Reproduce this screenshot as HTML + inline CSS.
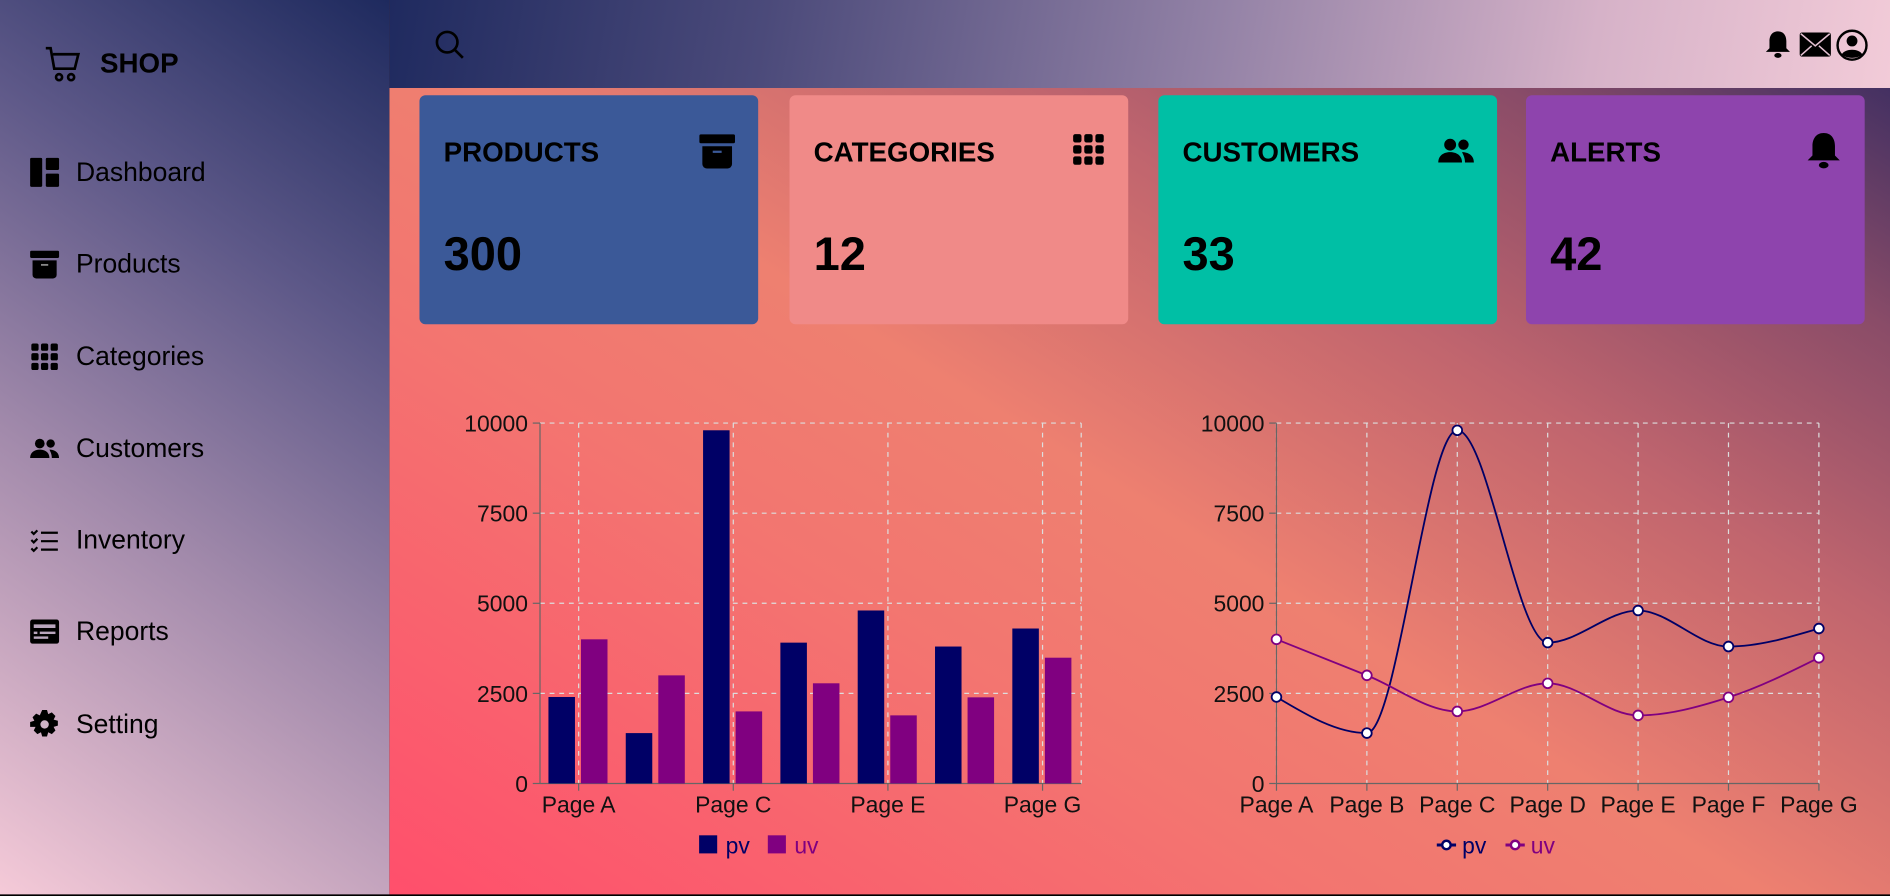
<!DOCTYPE html>
<html><head><meta charset="utf-8"><style>
html,body{margin:0;padding:0;width:1890px;height:896px;overflow:hidden;background:#000}
#root{position:absolute;left:0;top:0;width:1568px;height:743px;transform:scale(1.20536);transform-origin:0 0;font-family:"Liberation Sans",sans-serif;overflow:hidden}
#main{position:absolute;left:323px;top:0;width:1245px;height:742px;background:linear-gradient(32deg,#ff4f6c 0%,#f37570 32%,#ee8070 47%,#c0656e 66%,#8a4c68 82%,#2a2660 100%)}
#side{position:absolute;left:0;top:0;width:323px;height:742px;background:linear-gradient(35deg,#f5cad8 0%,#a28aab 40%,#5d5888 70%,#1e2a5e 100%)}
#head{position:absolute;left:323px;top:0;width:1245px;height:73px;background:linear-gradient(100deg,#1f2a5f 0%,#4b4a7a 25%,#9382a6 55%,#d6b2c8 80%,#f2cbd8 100%)}
.nav{position:absolute;left:24px;font-size:22px;color:#000;display:flex;align-items:center}
.nav svg{margin-right:13px}
.card{position:absolute;top:79px;width:281px;height:190px;border-radius:5px}
.card .t{position:absolute;left:20px;top:34px;font-size:23px;font-weight:bold}
.card .v{position:absolute;left:20px;top:111px;font-size:39px;font-weight:bold}
.card svg{position:absolute;right:18px;top:30px}
</style></head><body>
<div id="root">
<div id="main"></div>
<div id="side">
  <div style="position:absolute;left:37px;top:36px;display:flex;align-items:center">
    <svg width="32" height="32" viewBox="0 0 32 32" fill="none" stroke="#000" stroke-width="2.2"><path d="M1 4h4l3 17h17l3-12H7"/><circle cx="12" cy="28" r="2.5"/><circle cx="22" cy="28" r="2.5"/></svg>
    <span style="font-size:23px;font-weight:bold;margin-left:14px">SHOP</span></div>
  <div class="nav" style="top:130px"><svg width="26" height="26" viewBox="0 0 26 26"><rect x="1" y="1" width="10" height="24" rx="1"/><rect x="14" y="1" width="11" height="10" rx="1"/><rect x="14" y="14" width="11" height="11" rx="1"/></svg>Dashboard</div>
  <div class="nav" style="top:206px"><svg width="26" height="26" viewBox="0 0 26 26"><rect x="1" y="2" width="24" height="6" rx="1"/><path d="M3 10h20v12a3 3 0 0 1-3 3H6a3 3 0 0 1-3-3z"/><rect x="10" y="13" width="6" height="1.5" fill="#888"/></svg>Products</div>
  <div class="nav" style="top:283px"><svg width="26" height="26" viewBox="0 0 26 26"><g><rect x="2" y="2" width="6" height="6" rx="1.5"/><rect x="10" y="2" width="6" height="6" rx="1.5"/><rect x="18" y="2" width="6" height="6" rx="1.5"/><rect x="2" y="10" width="6" height="6" rx="1.5"/><rect x="10" y="10" width="6" height="6" rx="1.5"/><rect x="18" y="10" width="6" height="6" rx="1.5"/><rect x="2" y="18" width="6" height="6" rx="1.5"/><rect x="10" y="18" width="6" height="6" rx="1.5"/><rect x="18" y="18" width="6" height="6" rx="1.5"/></g></svg>Categories</div>
  <div class="nav" style="top:359px"><svg width="26" height="26" viewBox="0 0 26 26"><circle cx="9" cy="9" r="4"/><circle cx="18" cy="9" r="3.5"/><path d="M1 21c0-5 4-7 8-7s8 2 8 7z"/><path d="M17 14c4 0 8 2 8 7h-6c0-3-1-5-2-7z"/></svg>Customers</div>
  <div class="nav" style="top:435px"><svg width="26" height="26" viewBox="0 0 26 26" stroke="#000" stroke-width="1.8" fill="none"><path d="M2 6l2 2 3-3M2 13l2 2 3-3M2 20l2 2 3-3M10 7h14M10 14h14M10 21h14"/></svg>Inventory</div>
  <div class="nav" style="top:511px"><svg width="26" height="26" viewBox="0 0 26 26"><rect x="1" y="3" width="24" height="20" rx="2"/><rect x="4" y="7" width="18" height="3" fill="#b9a6bd"/><rect x="4" y="13" width="3" height="2" fill="#b9a6bd"/><rect x="9" y="13" width="13" height="2" fill="#b9a6bd"/><rect x="4" y="17" width="12" height="2" fill="#b9a6bd"/></svg>Reports</div>
  <div class="nav" style="top:588px"><svg width="26" height="26" viewBox="0 0 26 26"><path d="M11 1h4l1 3.5 3-1.5 3 3-1.5 3 3.5 1v4l-3.5 1 1.5 3-3 3-3-1.5-1 3.5h-4l-1-3.5-3 1.5-3-3 1.5-3L1 15v-4l3.5-1-1.5-3 3-3 3 1.5z"/><circle cx="13" cy="13" r="3.5" fill="#d0b5c8"/></svg>Setting</div>
</div>
<div id="head">
  <svg style="position:absolute;left:37px;top:24px" width="28" height="28" viewBox="0 0 28 28" fill="none" stroke="#000" stroke-width="2.2"><circle cx="11" cy="11" r="8.5"/><path d="M17 17l7 7"/></svg>
  <svg style="position:absolute;left:1140px;top:25px" width="24" height="24" viewBox="0 0 24 24"><path d="M12 1c5 0 7 4 7 8v6l3 3H2l3-3V9c0-4 2-8 7-8z"/><ellipse cx="12" cy="21" rx="3" ry="2"/></svg>
  <svg style="position:absolute;left:1170px;top:26px" width="26" height="22" viewBox="0 0 26 22"><rect x="0" y="1" width="26" height="20" rx="2"/><path d="M1 2l12 10 12-10M1 20l9-8M25 20l-9-8" stroke="#e2bfd0" stroke-width="1.3" fill="none"/></svg>
  <svg style="position:absolute;left:1200px;top:24px" width="27" height="27" viewBox="0 0 27 27"><circle cx="13.5" cy="13.5" r="12" fill="none" stroke="#000" stroke-width="2"/><circle cx="13.5" cy="10" r="4.5"/><path d="M5 21c3-5 14-5 17 0c-4 4-13 4-17 0z"/></svg>
</div>
<div class="card" style="left:348px;background:#3b5998"><div class="t">PRODUCTS</div><div class="v">300</div><svg width="32" height="32" viewBox="0 0 26 26"><rect x="1" y="2" width="24" height="6" rx="1"/><path d="M3 10h20v12a3 3 0 0 1-3 3H6a3 3 0 0 1-3-3z"/><rect x="10" y="13" width="6" height="1.5" fill="#3b5998"/></svg></div>
<div class="card" style="left:655px;background:#f08a88"><div class="t">CATEGORIES</div><div class="v">12</div><svg width="30" height="30" viewBox="0 0 26 26"><rect x="2" y="2" width="6" height="6" rx="1.5"/><rect x="10" y="2" width="6" height="6" rx="1.5"/><rect x="18" y="2" width="6" height="6" rx="1.5"/><rect x="2" y="10" width="6" height="6" rx="1.5"/><rect x="10" y="10" width="6" height="6" rx="1.5"/><rect x="18" y="10" width="6" height="6" rx="1.5"/><rect x="2" y="18" width="6" height="6" rx="1.5"/><rect x="10" y="18" width="6" height="6" rx="1.5"/><rect x="18" y="18" width="6" height="6" rx="1.5"/></svg></div>
<div class="card" style="left:961px;background:#00bfa5"><div class="t">CUSTOMERS</div><div class="v">33</div><svg width="32" height="32" viewBox="0 0 26 26"><circle cx="9" cy="9" r="4"/><circle cx="18" cy="9" r="3.5"/><path d="M1 21c0-5 4-7 8-7s8 2 8 7z"/><path d="M17 14c4 0 8 2 8 7h-6c0-3-1-5-2-7z"/></svg></div>
<div class="card" style="left:1266px;background:#8e44ad"><div class="t">ALERTS</div><div class="v">42</div><svg width="32" height="32" viewBox="0 0 24 24"><path d="M12 1c5 0 7 4 7 8v6l3 3H2l3-3V9c0-4 2-8 7-8z"/><ellipse cx="12" cy="21" rx="3" ry="2"/></svg></div>
<svg id="charts" width="1568" height="743" style="position:absolute;left:0;top:0" font-family="Liberation Sans, sans-serif" font-size="19"></svg>
</div>
<script>
const categories=["Page A","Page B","Page C","Page D","Page E","Page F","Page G"];
const pvValues=[2400,1398,9800,3908,4800,3800,4300];
const uvValues=[4000,3000,2000,2780,1890,2390,3490];
const yTicks=[0,2500,5000,7500,10000];
const yMax=10000;
const NS="http://www.w3.org/2000/svg";
const svg=document.getElementById('charts');
function el(tag,attrs,parent,text){const e=document.createElementNS(NS,tag);for(const k in attrs)e.setAttribute(k,attrs[k]);if(text!=null)e.textContent=text;(parent||svg).appendChild(e);return e;}
const PV="#000066",UV="#800080";
function axes(g,x0,x1,yTop,yBot,xs,labelIdx){
  const ys=v=>yBot-(v/yMax)*(yBot-yTop);
  yTicks.forEach(t=>{if(t>0){const l=el('line',{x1:x0,x2:x1,y1:ys(t),y2:ys(t),stroke:'#ddd','stroke-dasharray':'4 4'},g);}
    const tx=el('text',{x:x0-10,y:ys(t)+7,'text-anchor':'end',fill:'#111'},g,String(t));
    el('line',{x1:x0-6,x2:x0,y1:ys(t),y2:ys(t),stroke:'#666'},g);});
  xs.forEach((x,i)=>{if(labelIdx.includes(i)){const l=el('line',{x1:x,x2:x,y1:yTop,y2:yBot,stroke:'#ddd','stroke-dasharray':'4 4'},g);
    const tx=el('text',{x:x,y:yBot+24,'text-anchor':'middle',fill:'#111'},g,categories[i]);
    el('line',{x1:x,x2:x,y1:yBot,y2:yBot+6,stroke:'#666'},g);}});
  el('line',{x1:x0,x2:x0,y1:yTop,y2:yBot,stroke:'#666'},g);
  el('line',{x1:x0,x2:x1,y1:yBot,y2:yBot,stroke:'#666'},g);
  return ys;
}
// Bar chart
const bg=el('g',{});
const bx0=448,bx1=897,bw=(bx1-bx0)/categories.length;
const bxs=categories.map((c,i)=>bx0+bw*(i+0.5));
el('line',{x1:bx1,x2:bx1,y1:351,y2:650,stroke:'#ddd','stroke-dasharray':'4 4'},bg);
const bys=axes(bg,bx0,bx1,351,650,bxs,[0,2,4,6]);
categories.forEach((c,i)=>{
  const x=bx0+bw*i+7;
  const r1=el('rect',{x:x,y:bys(pvValues[i]),width:22,height:650-bys(pvValues[i]),fill:PV},bg);
  
  const r2=el('rect',{x:x+27,y:bys(uvValues[i]),width:22,height:650-bys(uvValues[i]),fill:UV},bg);
  
});
const bl=el('g',{},bg);
el('rect',{x:580,y:693,width:15,height:15,fill:PV},bl);el('text',{x:602,y:708,fill:PV},bl,'pv');
el('rect',{x:637,y:693,width:15,height:15,fill:UV},bl);el('text',{x:659,y:708,fill:UV},bl,'uv');
// Line chart
const lg=el('g',{});
const lx0=1059,lx1=1509;
const lxs=categories.map((c,i)=>lx0+(lx1-lx0)*i/(categories.length-1));
const lys=axes(lg,lx0,lx1,351,650,lxs,[0,1,2,3,4,5,6]);
function monotone(xs,ys){
  const n=xs.length,d=[],m=[];
  for(let i=0;i<n-1;i++)d.push((ys[i+1]-ys[i])/(xs[i+1]-xs[i]));
  for(let i=0;i<n;i++){
    if(i===0||i===n-1)m.push(null);
    else{const a=d[i-1],b=d[i];if(a*b<=0)m.push(0);else{const h0=xs[i]-xs[i-1],h1=xs[i+1]-xs[i];const p=(a*h1+b*h0)/(h0+h1);m.push((Math.sign(a)+Math.sign(b))*Math.min(Math.abs(a),Math.abs(b),0.5*Math.abs(p)));}}
  }
  m[0]=(3*d[0]-m[1])/2;m[n-1]=(3*d[n-2]-m[n-2])/2;
  let s=`M${xs[0]},${ys[0]}`;
  for(let i=0;i<n-1;i++){const h=(xs[i+1]-xs[i])/3;s+=`C${xs[i]+h},${ys[i]+h*m[i]} ${xs[i+1]-h},${ys[i+1]-h*m[i+1]} ${xs[i+1]},${ys[i+1]}`;}
  return s;
}
[[pvValues,PV,'pv'],[uvValues,UV,'uv']].forEach(([vals,col,nm])=>{
  const ys=vals.map(lys);
  const p=el('path',{d:monotone(lxs,ys),fill:'none',stroke:col,'stroke-width':1.5},lg);
  
  vals.forEach((v,i)=>{const c=el('circle',{cx:lxs[i],cy:lys(v),r:4,fill:'#fff',stroke:col,'stroke-width':1.5},lg);
    });
});
const ll=el('g',{},lg);
el('line',{x1:1192,x2:1208,y1:701,y2:701,stroke:PV,'stroke-width':2.5},ll);el('circle',{cx:1200,cy:701,r:3.5,fill:'#fff',stroke:PV,'stroke-width':2},ll);el('text',{x:1213,y:708,fill:PV},ll,'pv');
el('line',{x1:1249,x2:1265,y1:701,y2:701,stroke:UV,'stroke-width':2.5},ll);el('circle',{cx:1257,cy:701,r:3.5,fill:'#fff',stroke:UV,'stroke-width':2},ll);el('text',{x:1270,y:708,fill:UV},ll,'uv');
</script>
</body></html>
